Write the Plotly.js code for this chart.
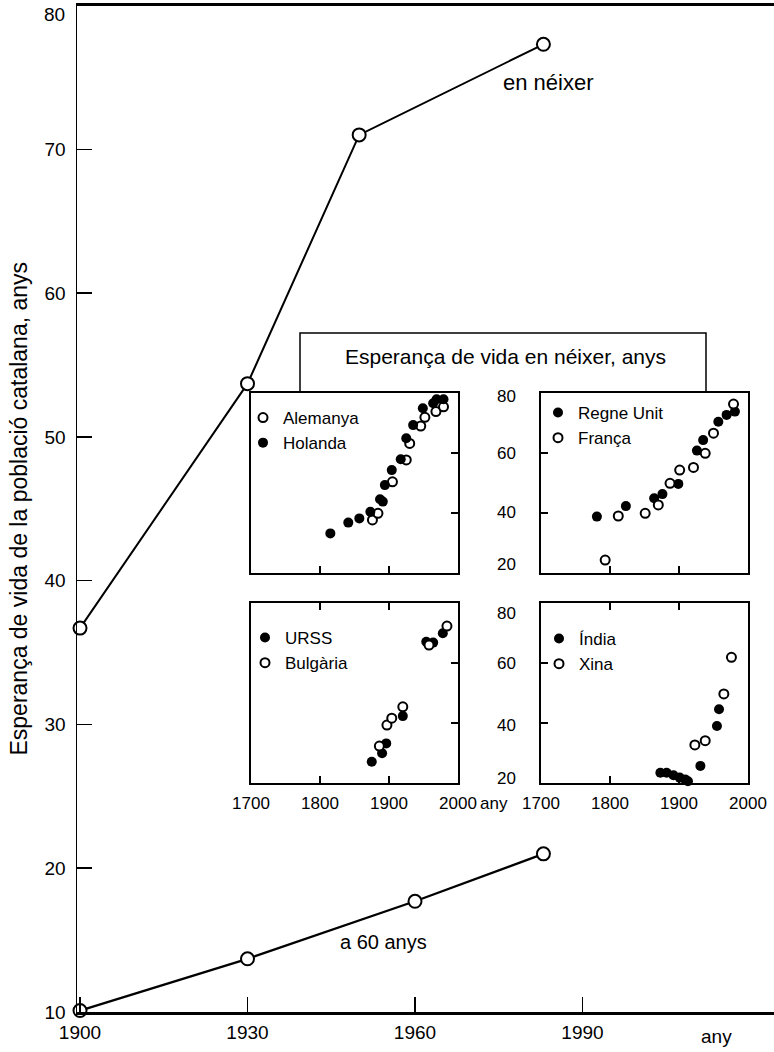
<!DOCTYPE html>
<html>
<head>
<meta charset="utf-8">
<script src="https://cdn.plot.ly/plotly-3.0.1.min.js"></script>
<style>html,body{margin:0;padding:0;background:#fff;}#chart{width:774px;height:1052px;}</style>
</head>
<body>
<div id="chart"></div>
<script>
// ---- main chart data ----
const birthYears = [1900, 1930, 1950, 1983];
const birthLE = [36.7, 53.7, 71.0, 77.3];
const at60Years = [1900, 1930, 1960, 1983];
const at60LE = [10.1, 13.7, 17.7, 21.0];
const mainXTicks = [1900, 1930, 1960, 1990];
const mainYTicks = [10, 20, 30, 40, 50, 60, 70];
const mainYTopLabel = 80;

// ---- inset data ----
const alemanyaYears = [1876, 1884, 1905, 1925, 1930, 1946, 1952, 1968, 1979];
const alemanyaLE = [37.7, 39.9, 50.4, 57.7, 63.2, 69.0, 71.9, 73.8, 75.4];
const holandaYears = [1815, 1841, 1857, 1873, 1887, 1891, 1894, 1904, 1917, 1925, 1935, 1949, 1964, 1969, 1979];
const holandaLE = [33.2, 36.8, 38.2, 40.4, 44.6, 43.8, 49.3, 54.3, 57.9, 64.9, 69.3, 74.9, 76.6, 77.9, 77.9];

const regneYears = [1781, 1823, 1864, 1876, 1899, 1926, 1935, 1957, 1969, 1981];
const regneLE = [38.8, 42.3, 44.9, 46.3, 49.7, 60.8, 64.3, 70.4, 72.7, 73.8];
const francaYears = [1793, 1812, 1851, 1870, 1887, 1901, 1921, 1938, 1950, 1979];
const francaLE = [24.3, 39.0, 39.9, 42.7, 49.9, 54.3, 55.2, 59.9, 66.6, 76.3];

const urssYears = [1875, 1890, 1896, 1920, 1954, 1964, 1978];
const urssLE = [27.1, 29.9, 33.2, 42.3, 67.1, 66.8, 69.9];
const bulgariaYears = [1886, 1897, 1904, 1920, 1958, 1984];
const bulgariaLE = [32.3, 39.3, 41.6, 45.4, 66.0, 72.3];

const indiaYears = [1873, 1882, 1892, 1901, 1909, 1913, 1931, 1955, 1958];
const indiaLE = [23.4, 23.4, 22.6, 21.8, 21.2, 20.6, 25.7, 39.0, 44.6];
const xinaYears = [1923, 1938, 1965, 1976];
const xinaLE = [32.7, 34.1, 49.7, 61.9];

const insetXTicks = [1700, 1800, 1900, 2000];
const insetYTickMarks = [40, 60];
const insetYLabels = ['80', '60', '40', '20'];
const insetYLabelPosTop = [78.7, 60, 40.3, 22.7];
const insetYLabelPosBottom = [76.6, 60, 39.3, 21.6];

const W = 774, H = 1052;
const px = v => v / W;
const py = v => 1 - v / H;

const FONT = 'Liberation Sans, Arial, sans-serif';

function filled(x, y, name, xa, ya, leg) {
  return {x: x, y: y, name: name, type: 'scatter', mode: 'markers', xaxis: xa, yaxis: ya, legend: leg,
    cliponaxis: false,
    marker: {symbol: 'circle', size: 10, color: '#000', line: {color: '#000', width: 0}}};
}
function open(x, y, name, xa, ya, leg) {
  return {x: x, y: y, name: name, type: 'scatter', mode: 'markers', xaxis: xa, yaxis: ya, legend: leg,
    cliponaxis: false,
    marker: {symbol: 'circle', size: 9, color: '#fff', line: {color: '#000', width: 2}}};
}

const mainMarker = {symbol: 'circle', size: 13, color: '#fff', line: {color: '#000', width: 2}};
const traces = [
  {x: birthYears, y: birthLE, type: 'scatter', mode: 'lines+markers', showlegend: false, cliponaxis: false,
   line: {color: '#000', width: 2}, marker: mainMarker, xaxis: 'x', yaxis: 'y'},
  {x: at60Years, y: at60LE, type: 'scatter', mode: 'lines+markers', showlegend: false, cliponaxis: false,
   line: {color: '#000', width: 2.3}, marker: mainMarker, xaxis: 'x', yaxis: 'y'},
  open(alemanyaYears, alemanyaLE, 'Alemanya', 'x2', 'y2', 'legend'),
  filled(holandaYears, holandaLE, 'Holanda', 'x2', 'y2', 'legend'),
  filled(regneYears, regneLE, 'Regne Unit', 'x3', 'y3', 'legend2'),
  open(francaYears, francaLE, 'França', 'x3', 'y3', 'legend2'),
  filled(urssYears, urssLE, 'URSS', 'x4', 'y4', 'legend3'),
  open(bulgariaYears, bulgariaLE, 'Bulgària', 'x4', 'y4', 'legend3'),
  filled(indiaYears, indiaLE, 'Índia', 'x5', 'y5', 'legend4'),
  open(xinaYears, xinaLE, 'Xina', 'x5', 'y5', 'legend4')
];

const leftDom = [px(251), px(458)];
const rightDom = [px(541), px(748)];
const topDom = [py(573), py(393)];
const botDom = [py(783), py(603)];

function insetX(dom, anchor, labels) {
  return {domain: dom, anchor: anchor, range: [1700, 2000], tickvals: insetXTicks,
    ticks: 'inside', ticklen: 7, tickwidth: 2, tickcolor: '#000',
    showticklabels: labels, tickfont: {family: FONT, size: 17, color: '#000'},
    ticklabelstandoff: 4,
    showline: true, linewidth: 2, linecolor: '#000', mirror: labels ? 'ticks' : true,
    showgrid: false, zeroline: false, fixedrange: true};
}
function insetY(dom, anchor, side) {
  return {domain: dom, anchor: anchor, range: [20, 80], side: side, tickvals: insetYTickMarks,
    ticks: 'inside', ticklen: 7, tickwidth: 2, tickcolor: '#000', showticklabels: false,
    showline: true, linewidth: 2, linecolor: '#000', mirror: true,
    showgrid: false, zeroline: false, fixedrange: true};
}
function leg(x, y) {
  return {x: px(x), y: py(y), xanchor: 'left', yanchor: 'top', bgcolor: 'rgba(0,0,0,0)',
    borderwidth: 0, font: {family: FONT, size: 17, color: '#000'}, itemwidth: 30,
    tracegroupgap: 0, traceorder: 'normal'};
}

const annotations = [
  {xref: 'paper', yref: 'paper', x: px(548), y: py(82), xanchor: 'center', yanchor: 'middle',
   text: 'en néixer', showarrow: false, font: {family: FONT, size: 22, color: '#000'}},
  {xref: 'paper', yref: 'paper', x: px(383), y: py(942), xanchor: 'center', yanchor: 'middle',
   text: 'a 60 anys', showarrow: false, font: {family: FONT, size: 20, color: '#000'}},
  {xref: 'x', yref: 'paper', x: 2014, y: py(1036), xanchor: 'center', yanchor: 'middle',
   text: 'any', showarrow: false, font: {family: FONT, size: 19, color: '#000'}},
  {xref: 'paper', yref: 'paper', x: px(505), y: py(356), xanchor: 'center', yanchor: 'middle',
   text: 'Esperança de vida en néixer, anys', showarrow: false, font: {family: FONT, size: 21, color: '#000'}},
  {xref: 'paper', yref: 'paper', x: px(494), y: py(803), xanchor: 'center', yanchor: 'middle',
   text: 'any', showarrow: false, font: {family: FONT, size: 17, color: '#000'}},
  {xref: 'paper', yref: 'y', x: px(67), y: mainYTopLabel, xanchor: 'right', yanchor: 'middle', yshift: -9,
   text: String(mainYTopLabel), showarrow: false, font: {family: FONT, size: 19, color: '#000'}}
];
insetYLabels.forEach((t, i) => {
  annotations.push({xref: 'paper', yref: 'y3', x: px(518), y: insetYLabelPosTop[i], text: t, showarrow: false,
    xanchor: 'right', yanchor: 'middle', font: {family: FONT, size: 17, color: '#000'}});
  annotations.push({xref: 'paper', yref: 'y5', x: px(518), y: insetYLabelPosBottom[i], text: t, showarrow: false,
    xanchor: 'right', yanchor: 'middle', font: {family: FONT, size: 17, color: '#000'}});
});

const layout = {
  width: W, height: H,
  margin: {l: 0, r: 0, t: 0, b: 0, pad: 0},
  paper_bgcolor: '#fff', plot_bgcolor: 'rgba(0,0,0,0)',
  font: {family: FONT, color: '#000'},
  xaxis: {domain: [px(77), 1], range: [1899.46, 2024.3], anchor: 'y', tickvals: mainXTicks,
    ticks: 'inside', ticklen: 15, tickwidth: 1.5, tickcolor: '#000',
    tickfont: {family: FONT, size: 19, color: '#000'}, ticklabelstandoff: 1,
    showline: true, linewidth: 3, linecolor: '#000', mirror: true,
    showgrid: false, zeroline: false, fixedrange: true},
  yaxis: {domain: [py(1012), py(5.5)], range: [10, 80], anchor: 'x', tickvals: mainYTicks,
    ticks: 'inside', ticklen: 15, tickwidth: 1.5, tickcolor: '#000',
    tickfont: {family: FONT, size: 19, color: '#000'}, ticklabelstandoff: 6,
    showline: true, linewidth: 1.5, linecolor: '#000',
    showgrid: false, zeroline: false, fixedrange: true,
    title: {text: 'Esperança de vida de la població catalana, anys', standoff: 10,
      font: {family: FONT, size: 23, color: '#000'}}},
  xaxis2: insetX(leftDom, 'y2', false),
  yaxis2: insetY(topDom, 'x2', 'right'),
  xaxis3: insetX(rightDom, 'y3', false),
  yaxis3: insetY(topDom, 'x3', 'left'),
  xaxis4: insetX(leftDom, 'y4', true),
  yaxis4: insetY(botDom, 'x4', 'right'),
  xaxis5: insetX(rightDom, 'y5', true),
  yaxis5: insetY(botDom, 'x5', 'left'),
  legend: leg(243, 400),
  legend2: leg(538, 395),
  legend3: leg(245, 620),
  legend4: leg(539, 621),
  shapes: [
    {type: 'path', xref: 'paper', yref: 'paper',
     path: 'M ' + px(300) + ',' + py(393) + ' L ' + px(300) + ',' + py(333) + ' L ' + px(706) + ',' + py(333) + ' L ' + px(706) + ',' + py(393),
     line: {color: '#000', width: 1.5}}
  ],
  annotations: annotations,
  showlegend: true
};

Plotly.newPlot('chart', traces, layout, {staticPlot: true, displayModeBar: false});
</script>
</body>
</html>
